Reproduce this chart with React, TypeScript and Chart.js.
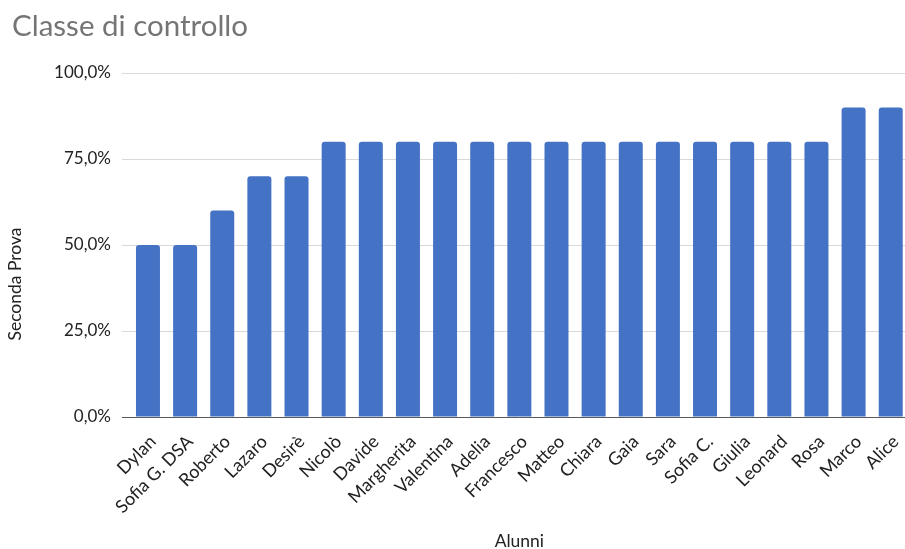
import React, { useEffect, useRef } from "react";
import { Chart, registerables } from "chart.js";

Chart.register(...registerables);

const students = [
  "Dylan", "Sofia G. DSA", "Roberto", "Lazaro", "Desirè", "Nicolò", "Davide",
  "Margherita", "Valentina", "Adelia", "Francesco", "Matteo", "Chiara", "Gaia",
  "Sara", "Sofia C.", "Giulia", "Leonard", "Rosa", "Marco", "Alice",
];

const secondTest = [
  50, 50, 60, 70, 70, 80, 80, 80, 80, 80, 80, 80, 80, 80, 80, 80, 80, 80, 80, 90, 90,
];

const chartTitle = "Classe di controllo";
const yTitle = "Seconda Prova";
const xTitle = "Alunni";

const FONT = "Lato, 'Open Sans', sans-serif";
const CANVAS_W = 920;
const CANVAS_H = 549;

const fmtPercent = (v: number) => v.toFixed(1).replace(".", ",") + "%";

// Draws the chart heading and the two axis titles at fixed spots.
const titlesPlugin = {
  id: "titles",
  afterDraw(chart: Chart) {
    const { ctx, chartArea } = chart;
    ctx.save();
    ctx.fillStyle = "#757575";
    ctx.font = `29.5px ${FONT}`;
    ctx.textAlign = "left";
    ctx.textBaseline = "alphabetic";
    ctx.fillText(chartTitle, 12, 36);

    ctx.fillStyle = "#222222";
    ctx.font = `17.5px ${FONT}`;
    ctx.textAlign = "center";
    ctx.textBaseline = "middle";
    ctx.fillText(xTitle, (chartArea.left + chartArea.right) / 2, 541);

    ctx.translate(15, 284);
    ctx.rotate(-Math.PI / 2);
    ctx.fillText(yTitle, 0, 0);
    ctx.restore();
  },
};

export default function App() {
  const canvasRef = useRef<HTMLCanvasElement | null>(null);

  useEffect(() => {
    if (!canvasRef.current) return;
    const chart = new Chart(canvasRef.current, {
      type: "bar",
      data: {
        labels: students,
        datasets: [
          {
            label: yTitle,
            data: secondTest,
            backgroundColor: "#4472C4",
            borderRadius: 3,
            categoryPercentage: 1,
            barPercentage: 0.646,
          },
        ],
      },
      options: {
        responsive: false,
        animation: false,
        devicePixelRatio: 1,
        layout: { padding: { top: 73, right: CANVAS_W - 909.3, left: 0, bottom: 0 } },
        plugins: {
          legend: { display: false },
          tooltip: { enabled: false },
          title: { display: false },
        },
        scales: {
          x: {
            grid: { display: false },
            border: { display: false },
            ticks: {
              autoSkip: false,
              minRotation: 45,
              maxRotation: 45,
              padding: 6,
              labelOffset: 5,
              color: "#222222",
              font: { family: FONT, size: 18 },
            },
            afterFit(scale: any) {
              scale.height = CANVAS_H - 417;
            },
          },
          y: {
            min: 0,
            max: 100,
            border: { display: false },
            grid: {
              tickLength: 7.4,
              lineWidth: 1,
              color: (c: any) => (c.tick && c.tick.value === 0 ? "#595959" : "#d9d9d9"),
            },
            ticks: {
              stepSize: 25,
              padding: 11,
              color: "#222222",
              font: { family: FONT, size: 17 },
              callback: (v: any) => fmtPercent(Number(v)),
            },
            afterFit(scale: any) {
              scale.width = 129.4;
            },
          },
        },
      },
      plugins: [titlesPlugin],
    });
    return () => chart.destroy();
  }, []);

  return (
    <div
      style={{
        position: "fixed",
        left: 0,
        top: 0,
        width: 905,
        height: 549,
        overflow: "hidden",
        background: "#ffffff",
      }}
    >
      <canvas
        ref={canvasRef}
        width={CANVAS_W}
        height={CANVAS_H}
        style={{ display: "block", width: CANVAS_W, height: CANVAS_H }}
      />
    </div>
  );
}
